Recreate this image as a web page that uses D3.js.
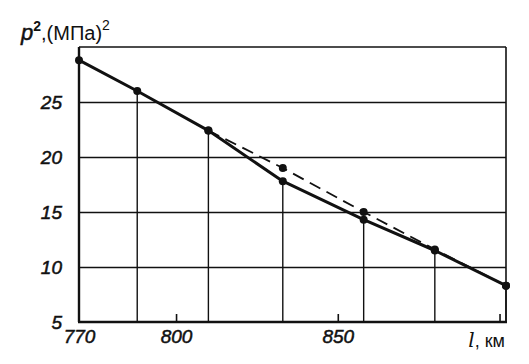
<!DOCTYPE html>
<html>
<head>
<meta charset="utf-8">
<script src="https://cdn.jsdelivr.net/npm/d3@7"></script>
<style>
  body { margin: 0; background: #fff; }
  svg text { font-family: "Liberation Sans", "DejaVu Sans", sans-serif; fill: #111; }
</style>
</head>
<body>
<svg id="chart" width="529" height="364"></svg>
<script>
// distance along pipeline, km
const distKm = [770, 788, 810, 833, 858, 880, 902]
// measured p^2, (MPa)^2
const pSqActual = [28.8, 26.0, 22.4, 17.8, 14.3, 11.5, 8.3]
// design line (dashed)
const distDesign = [810, 833, 858, 880, 902]
const pSqDesign = [22.4, 19.0, 15.0, 11.6, 8.3]

const yTicks = [5, 10, 15, 20, 25]
const yGrid = [10, 15, 20, 25]
const xLabels = [770, 800, 850]
const xTickMarks = [800, 850, 900]

const svg = d3.select("#chart")
const x = d3.scaleLinear().domain([770, 902]).range([79, 506])
const y = d3.scaleLinear().domain([5, 30]).range([322, 47])
const ink = "#111"

// horizontal grid
svg.append("g")
    .attr("transform", `translate(${x.range()[0]},0)`)
    .call(d3.axisLeft(y).tickValues(yGrid).tickSize(-(x.range()[1] - x.range()[0])).tickFormat(""))
    .call(g => g.select(".domain").remove())
    .selectAll("line").attr("stroke", ink).attr("stroke-width", 1.4)

// drop lines from the measured points
svg.append("g").selectAll("line")
    .data(distKm.map((d, i) => [d, pSqActual[i]]))
    .join("line")
    .attr("x1", d => x(d[0])).attr("x2", d => x(d[0]))
    .attr("y1", y(5)).attr("y2", d => y(d[1]))
    .attr("stroke", ink).attr("stroke-width", 1.4)

// frame: top and right thin, left and bottom heavy
svg.append("line")
    .attr("x1", x(770)).attr("x2", x(902)).attr("y1", y(30)).attr("y2", y(30))
    .attr("stroke", ink).attr("stroke-width", 1.4)
svg.append("line")
    .attr("x1", x(902)).attr("x2", x(902)).attr("y1", y(30)).attr("y2", y(5))
    .attr("stroke", ink).attr("stroke-width", 1.6)
svg.append("line")
    .attr("x1", x(770)).attr("x2", x(770)).attr("y1", y(30)).attr("y2", y(5))
    .attr("stroke", ink).attr("stroke-width", 2.4)
svg.append("line")
    .attr("x1", x(770) - 1).attr("x2", x(902) + 1).attr("y1", y(5)).attr("y2", y(5))
    .attr("stroke", ink).attr("stroke-width", 2.4)

// small inner ticks on bottom axis
svg.append("g")
    .attr("transform", `translate(0,${y(5)})`)
    .call(d3.axisBottom(x).tickValues(xTickMarks).tickSize(-8).tickFormat(""))
    .call(g => g.select(".domain").remove())
    .selectAll("line").attr("stroke", ink).attr("stroke-width", 1.6)

// axis labels
svg.append("g")
    .attr("transform", `translate(${x(770)},0)`)
    .call(d3.axisLeft(y).tickValues(yTicks).tickSize(0).tickPadding(17))
    .call(g => g.select(".domain").remove())
    .selectAll("text")
    .attr("font-size", 19).attr("font-style", "italic")
    .attr("fill", ink).attr("stroke", ink).attr("stroke-width", 0.5)

svg.append("g")
    .attr("transform", `translate(0,${y(5)})`)
    .call(d3.axisBottom(x).tickValues(xLabels).tickSize(0).tickPadding(8))
    .call(g => g.select(".domain").remove())
    .selectAll("text")
    .attr("font-size", 19).attr("font-style", "italic")
    .attr("fill", ink).attr("stroke", ink).attr("stroke-width", 0.5)

svg.append("text")
    .attr("x", 505).attr("y", 347)
    .attr("text-anchor", "end")
    .attr("font-size", 18)
    .call(t => t.append("tspan").attr("font-style", "italic").attr("font-family", "DejaVu Serif").attr("font-size", 20).text("l"))
    .call(t => t.append("tspan").text(", км"))

// y title
svg.append("text")
    .attr("x", 21).attr("y", 40)
    .attr("font-size", 20)
    .call(t => t.append("tspan").attr("font-style", "italic").attr("font-size", 22)
        .attr("stroke", ink).attr("stroke-width", 0.5).text("p"))
    .call(t => t.append("tspan").attr("dy", -9).attr("font-size", 14).attr("font-weight", "bold").text("2"))
    .call(t => t.append("tspan").attr("dy", 9).text(",(МПа)"))
    .call(t => t.append("tspan").attr("dy", -10).attr("font-size", 14).text("2"))

// design (dashed) line
const line = d3.line().x(d => x(d[0])).y(d => y(d[1]))
const design = distDesign.map((d, i) => [d, pSqDesign[i]])
svg.append("path")
    .datum(design)
    .attr("d", line)
    .attr("fill", "none").attr("stroke", ink)
    .attr("stroke-width", 1.8).attr("stroke-dasharray", "12,7")

// measured (solid) line
const actual = distKm.map((d, i) => [d, pSqActual[i]])
svg.append("path")
    .datum(actual)
    .attr("d", line)
    .attr("fill", "none").attr("stroke", ink)
    .attr("stroke-width", 3).attr("stroke-linejoin", "round")

svg.append("g").selectAll("circle")
    .data(actual.concat(design))
    .join("circle")
    .attr("cx", d => x(d[0])).attr("cy", d => y(d[1]))
    .attr("r", 4).attr("fill", ink)
</script>
</body>
</html>
